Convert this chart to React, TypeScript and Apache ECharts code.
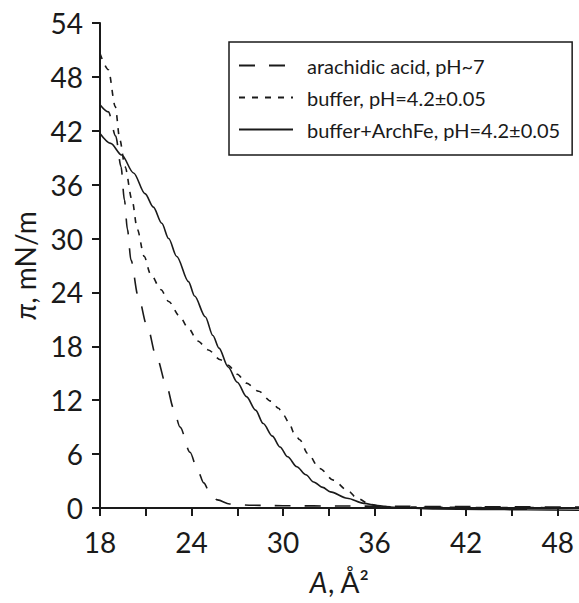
import React, { useEffect, useRef } from "react";
import * as echarts from "echarts";

const seriesNames = [
  "arachidic acid, pH~7",
  "buffer, pH=4.2±0.05",
  "buffer+ArchFe, pH=4.2±0.05",
];

const acidA = [18, 18.55, 19.03, 19.38, 19.6, 19.8, 20.03, 20.5, 21.1, 21.7, 22.4, 22.8, 23.25, 23.9, 24.4, 24.8, 25.2, 25.7, 26.5, 28, 30, 34, 38, 42, 46, 49.4];
const acidPi = [44.9, 44.1, 41.4, 38, 34.3, 31, 27.6, 23.6, 20.2, 16.8, 13.4, 11.2, 9.0, 6.2, 4.2, 2.8, 1.7, 0.9, 0.45, 0.3, 0.25, 0.22, 0.18, 0.15, 0.12, 0.1];

const bufA = [18, 18.55, 19.0, 19.3, 19.64, 20.1, 20.45, 20.9, 21.3, 22.0, 22.5, 23.2, 23.8, 24.4, 25.1, 25.9, 26.4, 27.0, 27.6, 28.4, 29.2, 29.7, 30.0, 30.4, 30.7, 31.1, 31.6, 32.4, 33.3, 34.2, 34.85, 35.7, 36.5, 38, 40, 44, 49.4];
const bufPi = [50.6, 48.8, 44.7, 41, 38, 34.3, 31, 28, 26.1, 24.3, 23, 21.4, 20, 18.6, 17.6, 16.5, 15.9, 14.9, 13.9, 13.0, 11.9, 11.1, 10.4, 9.5, 8.4, 7.6, 6.1, 4.4, 3.1, 2.0, 1.1, 0.4, 0.15, 0.1, 0.08, 0.05, 0.02];

const feA = [18, 18.7, 19.42, 20.2, 20.95, 21.5, 22.05, 22.5, 23.03, 23.8, 24.2, 24.9, 25.4, 25.8, 26.4, 27.0, 27.6, 28.2, 28.7, 29.3, 29.8, 30.3, 30.9, 31.5, 32, 32.6, 33.1, 34.2, 35.3, 36.2, 37, 38, 40, 43, 46, 49.4];
const fePi = [41.7, 40.6, 39.3, 37.3, 35, 33.5, 31.7, 30.0, 28, 25.2, 23.6, 21.3, 19.2, 17.8, 15.7, 14.0, 12.4, 10.9, 9.4, 8.0, 6.8, 5.7, 4.6, 3.7, 2.9, 2.3, 1.8, 1.08, 0.52, 0.26, 0.1, 0.0, -0.1, -0.15, -0.2, -0.25];

const xMin = 18;
const xMax = 49.4;
const xStep = 3;
const yMin = 0;
const yMax = 54;
const yStep = 6;

const zip = (xs: number[], ys: number[]) => xs.map((x, i) => [x, ys[i]]);

const INK = "#1a1a1a";
const FONT = "Lato";

export default function App() {
  const ref = useRef<HTMLDivElement>(null);
  useEffect(() => {
    if (!ref.current) return;
    const chart = echarts.init(ref.current, undefined, { renderer: "svg" });
    const lineBase = {
      type: "line" as const,
      showSymbol: false,
      symbol: "none",
      smooth: 0.3,
      smoothMonotone: "x" as const,
      clip: false,
      itemStyle: { color: "rgba(0,0,0,0)" },
    };
    chart.setOption({
      animation: false,
      backgroundColor: "#fff",
      textStyle: { fontFamily: FONT, color: INK },
      grid: { left: 100, right: 0, top: 23, bottom: 95, containLabel: false },
      legend: {
        orient: "vertical",
        left: 229,
        top: 42,
        padding: [13, 12, 15, 9],
        itemWidth: 54,
        itemHeight: 14,
        itemGap: 11,
        backgroundColor: "#fff",
        borderColor: INK,
        borderWidth: 1.5,
        borderRadius: 0,
        itemStyle: { opacity: 0 },
        textStyle: {
          fontFamily: FONT,
          fontSize: 20,
          color: INK,
          lineHeight: 21,
          padding: [0, 0, 0, 9],
        },
        data: seriesNames,
      },
      xAxis: {
        type: "value",
        min: xMin,
        max: xMax,
        interval: xStep,
        name: "{i|A}, Å²",
        nameLocation: "middle",
        nameGap: 60,
        nameTextStyle: {
          fontFamily: FONT,
          fontSize: 28,
          color: INK,
          rich: { i: { fontStyle: "italic", fontFamily: FONT, fontSize: 28, color: INK } },
        },
        axisLine: { show: true, onZero: false, lineStyle: { color: INK, width: 2 } },
        axisTick: { show: true, inside: false, length: 8, lineStyle: { color: INK, width: 2 } },
        axisLabel: {
          fontFamily: FONT,
          fontSize: 28,
          color: INK,
          margin: 20,
          showMaxLabel: false,
          formatter: (v: number) => (Math.round(v) % 6 === 0 ? String(Math.round(v)) : ""),
        },
        splitLine: { show: false },
      },
      yAxis: {
        type: "value",
        min: yMin,
        max: yMax,
        interval: yStep,
        name: "{i|π}, mN/m",
        nameLocation: "middle",
        nameGap: 61,
        nameTextStyle: {
          fontFamily: FONT,
          fontSize: 28,
          color: INK,
          rich: { i: { fontStyle: "italic", fontFamily: FONT, fontSize: 28, color: INK } },
        },
        axisLine: { show: true, lineStyle: { color: INK, width: 2 } },
        axisTick: { show: true, inside: false, length: 8, lineStyle: { color: INK, width: 2 } },
        axisLabel: { fontFamily: FONT, fontSize: 28, color: INK, margin: 17 },
        splitLine: { show: false },
      },
      series: [
        {
          ...lineBase,
          name: seriesNames[0],
          data: zip(acidA, acidPi),
          lineStyle: { color: INK, width: 1.6, type: [16, 14] },
        },
        {
          ...lineBase,
          name: seriesNames[1],
          data: zip(bufA, bufPi),
          lineStyle: { color: INK, width: 1.6, type: [6, 7] },
        },
        {
          ...lineBase,
          name: seriesNames[2],
          data: zip(feA, fePi),
          lineStyle: { color: INK, width: 1.6, type: "solid" },
        },
      ],
    });
    return () => chart.dispose();
  }, []);
  return (
    <div
      ref={ref}
      style={{ position: "fixed", left: 0, top: 0, width: 579, height: 603, background: "#fff" }}
    />
  );
}
